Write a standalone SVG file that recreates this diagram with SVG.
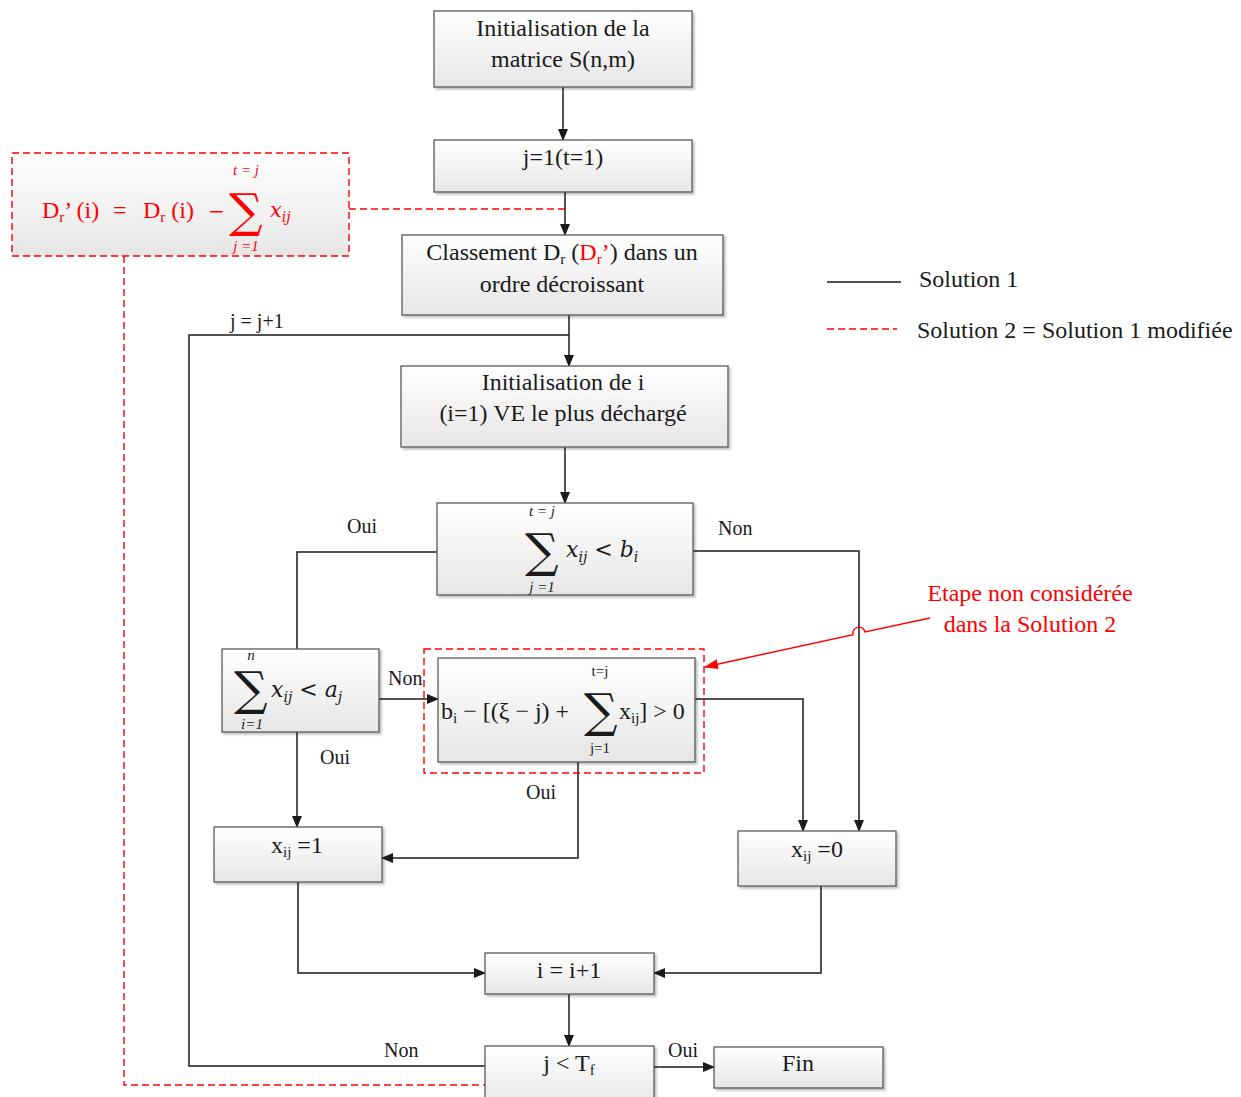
<svg xmlns="http://www.w3.org/2000/svg" width="1241" height="1097" viewBox="0 0 1241 1097">
<defs>
<linearGradient id="g" x1="0" y1="0" x2="0" y2="1">
<stop offset="0" stop-color="#ffffff"/>
<stop offset="1" stop-color="#e6e6e6"/>
</linearGradient>
<marker id="ar" markerWidth="12" markerHeight="10" refX="11" refY="5" orient="auto" markerUnits="userSpaceOnUse">
<path d="M0,0 L12,5 L0,10 Z" fill="#1a1a1a"/>
</marker>
<marker id="arr" markerWidth="14" markerHeight="10" refX="13" refY="5" orient="auto" markerUnits="userSpaceOnUse">
<path d="M0,0 L14,5 L0,10 Z" fill="#ff0000"/>
</marker>
<filter id="sh" x="-5%" y="-5%" width="115%" height="120%">
<feDropShadow dx="2" dy="2" stdDeviation="1.2" flood-color="#000" flood-opacity="0.25"/>
</filter>
</defs>
<style>
.box{fill:url(#g);stroke:#5a5a5a;stroke-width:1.3;filter:url(#sh)}
.t{font-family:"Liberation Serif",serif;font-size:24px;fill:#1a1a1a}
.c{text-anchor:middle}
.lbl{font-family:"Liberation Serif",serif;font-size:20px;fill:#1a1a1a}
.m{font-family:"DejaVu Serif","Liberation Serif",serif;font-style:italic;fill:#1a1a1a}
.sig{font-family:"DejaVu Serif","Liberation Serif",serif;font-size:47px;fill:#1a1a1a}
.sm{font-family:"Liberation Serif",serif;font-size:15px;fill:#1a1a1a}
.red{fill:#ff0000}
.ln{fill:none;stroke:#1a1a1a;stroke-width:1.5}
.dl{fill:none;stroke:#ff0000;stroke-width:1.4;stroke-dasharray:7,4}
</style>

<g id="connectors">
<path class="ln" d="M563,87 V140" marker-end="url(#ar)"/>
<path class="ln" d="M565,192 V235" marker-end="url(#ar)"/>
<path class="ln" d="M569,315 V366" marker-end="url(#ar)"/>
<path class="ln" d="M485,1066 H189 V335 H569"/>
<path class="ln" d="M565,447 V503" marker-end="url(#ar)"/>
<path class="ln" d="M437,552 H297 V649"/>
<path class="ln" d="M693,551 H859 V831" marker-end="url(#ar)"/>
<path class="ln" d="M379,699 H438" marker-end="url(#ar)"/>
<path class="ln" d="M297,732 V827" marker-end="url(#ar)"/>
<path class="ln" d="M695,699 H803 V831" marker-end="url(#ar)"/>
<path class="ln" d="M578,762 V858 H382" marker-end="url(#ar)"/>
<path class="ln" d="M298,882 V973 H485" marker-end="url(#ar)"/>
<path class="ln" d="M821,886 V973 H654" marker-end="url(#ar)"/>
<path class="ln" d="M569,994 V1046" marker-end="url(#ar)"/>
<path class="ln" d="M654,1067 H714" marker-end="url(#ar)"/>
<path class="dl" d="M349,209 H565"/>
<path class="dl" d="M124,256 V1085 H485"/>
<path fill="none" stroke="#ff0000" stroke-width="1.4" d="M930,618 L865,632 A6,6 0 0 0 853,634.6 L705,667" marker-end="url(#arr)"/>
<text class="lbl" x="230" y="328" font-size="22">j = j+1</text>
<text class="lbl" x="347" y="533">Oui</text>
<text class="lbl" x="718" y="535">Non</text>
<text class="lbl" x="388" y="685">Non</text>
<text class="lbl" x="320" y="764">Oui</text>
<text class="lbl" x="526" y="799">Oui</text>
<text class="lbl" x="384" y="1057">Non</text>
<text class="lbl" x="668" y="1057">Oui</text>
</g>

<g id="formula-red">
<rect x="12" y="153" width="337" height="103" fill="url(#g)" stroke="#ff0000" stroke-width="1.4" stroke-dasharray="7,4"/>
<text class="t red" x="42" y="218">D<tspan font-size="15" dy="4">r</tspan><tspan dy="-4">’ (i)</tspan></text>
<text class="t red" x="113" y="218">=</text>
<text class="t red" x="143" y="218">D<tspan font-size="15" dy="4">r</tspan><tspan dy="-4"> (i)</tspan></text>
<text class="red" x="208" y="218" font-family="DejaVu Serif, serif" font-size="20">−</text>
<text class="sig red" x="229" y="227" font-size="48">∑</text>
<text class="sm red" x="246" y="175" text-anchor="middle" font-style="italic">t = j</text>
<text class="sm red" x="246" y="251" text-anchor="middle" font-style="italic">j =1</text>
<text class="m red" x="270" y="217" font-size="21">x<tspan font-size="14" dy="5">ij</tspan></text>
</g>

<g id="init-matrice">
<rect class="box" x="434" y="11" width="258" height="76"/>
<text class="t c" x="563" y="36">Initialisation de la</text>
<text class="t c" x="563" y="67">matrice S(n,m)</text>
</g>

<g id="j1">
<rect class="box" x="434" y="140" width="258" height="52"/>
<text class="t c" x="563" y="165">j=1(t=1)</text>
</g>

<g id="classement">
<rect class="box" x="402" y="235" width="321" height="80"/>
<text class="t c" x="562" y="260">Classement D<tspan font-size="15" dy="4">r</tspan><tspan dy="-4"> (</tspan><tspan class="red">D</tspan><tspan class="red" font-size="15" dy="4">r</tspan><tspan class="red" dy="-4">’</tspan>) dans un</text>
<text class="t c" x="562" y="292">ordre décroissant</text>
</g>

<g id="init-i">
<rect class="box" x="401" y="366" width="327" height="81"/>
<text class="t c" x="563" y="390">Initialisation de i</text>
<text class="t c" x="563" y="421">(i=1) VE le plus déchargé</text>
</g>

<g id="sum-b">
<rect class="box" x="437" y="503" width="256" height="92"/>
<text class="sm c" x="542" y="516" font-style="italic">t = j</text>
<text class="sig" x="525" y="567">∑</text>
<text class="sm c" x="542" y="592" font-style="italic">j =1</text>
<text class="m" x="566" y="557" font-size="22">x<tspan font-size="14" dy="5">ij</tspan><tspan dy="-5"> &lt; b</tspan><tspan font-size="14" dy="5">i</tspan></text>
</g>

<g id="sum-a">
<rect class="box" x="222" y="649" width="157" height="83"/>
<text class="sm c" x="251" y="660" font-style="italic">n</text>
<text class="sig" x="234" y="705">∑</text>
<text class="sm c" x="252" y="729" font-style="italic">i=1</text>
<text class="m" x="271" y="697" font-size="22">x<tspan font-size="14" dy="5">ij</tspan><tspan dy="-5"> &lt; a</tspan><tspan font-size="14" dy="5">j</tspan></text>
</g>

<g id="cond-xi">
<rect x="424" y="649" width="280" height="124" fill="none" stroke="#ff0000" stroke-width="1.4" stroke-dasharray="7,4"/>
<rect class="box" x="438" y="658" width="257" height="104"/>
<text class="t" x="441" y="719" font-size="25">b<tspan font-size="15" dy="4">i</tspan><tspan dy="-4"> − [(ξ − j) +</tspan></text>
<text class="sm c" x="600" y="676">t=j</text>
<text class="sig" x="584" y="727">∑</text>
<text class="sm c" x="600" y="753">j=1</text>
<text class="t" x="619" y="719" font-size="25">x<tspan font-size="15" dy="4">ij</tspan><tspan dy="-4">] &gt; 0</tspan></text>
</g>

<g id="x1">
<rect class="box" x="214" y="827" width="168" height="55"/>
<text class="t" x="271" y="853">x<tspan font-size="15" dy="4">ij</tspan><tspan dy="-4"> =1</tspan></text>
</g>

<g id="x0">
<rect class="box" x="738" y="831" width="158" height="55"/>
<text class="t" x="791" y="857">x<tspan font-size="15" dy="4">ij</tspan><tspan dy="-4"> =0</tspan></text>
</g>

<g id="inc-i">
<rect class="box" x="485" y="953" width="169" height="41"/>
<text class="t c" x="569" y="978">i = i+1</text>
</g>

<g id="test-j">
<rect class="box" x="485" y="1046" width="169" height="60"/>
<text class="t c" x="569" y="1071">j &lt; T<tspan font-size="15" dy="4">f</tspan></text>
</g>

<g id="fin">
<rect class="box" x="714" y="1047" width="169" height="41"/>
<text class="t c" x="798" y="1071">Fin</text>
</g>

<g id="annotation">
<text class="t c red" x="1030" y="601">Etape non considérée</text>
<text class="t c red" x="1030" y="632">dans la Solution 2</text>
</g>

<g id="legend">
<line x1="827" y1="282" x2="901" y2="282" stroke="#1a1a1a" stroke-width="1.5"/>
<text class="t" x="919" y="287">Solution 1</text>
<line x1="827" y1="329" x2="897" y2="329" stroke="#ff0000" stroke-width="1.4" stroke-dasharray="7,4"/>
<text class="t" x="917" y="338">Solution 2 = Solution 1 modifiée</text>
</g>
</svg>
